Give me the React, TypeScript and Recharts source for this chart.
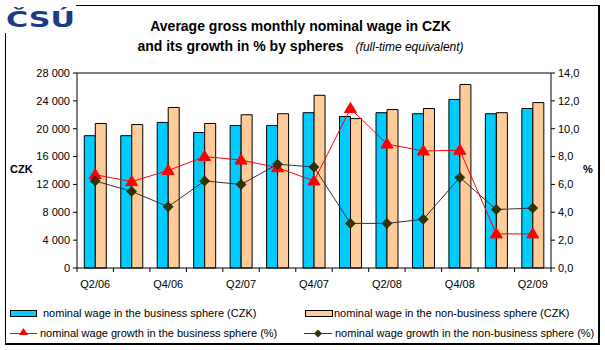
import React from "react";
import {
    ComposedChart,
    Bar,
    Line,
    XAxis,
    YAxis,
    ReferenceLine,
} from "recharts";

const quarters = [
    "Q2/06", "Q3/06", "Q4/06", "Q1/07", "Q2/07", "Q3/07", "Q4/07",
    "Q1/08", "Q2/08", "Q3/08", "Q4/08", "Q1/09", "Q2/09",
];
const businessWage = [19000, 19000, 20900, 19450, 20450, 20450, 22300, 21750, 22300, 22150, 24200, 22150, 22900];
const nonBusinessWage = [20750, 20600, 23050, 20750, 22000, 22150, 24800, 21450, 22750, 22900, 26350, 22300, 23750];
const businessGrowth = [6.7, 6.2, 7.0, 8.0, 7.75, 7.2, 6.25, 11.45, 8.9, 8.4, 8.45, 2.45, 2.45];
const nonBusinessGrowth = [6.25, 5.5, 4.4, 6.25, 6.0, 7.45, 7.25, 3.2, 3.2, 3.5, 6.5, 4.2, 4.3];

const czkTicks = [0, 4000, 8000, 12000, 16000, 20000, 24000, 28000];
const pctTicks = [0, 2, 4, 6, 8, 10, 12, 14];

const data = quarters.map((q, i) => ({
    q,
    business: businessWage[i],
    nonBusiness: nonBusinessWage[i],
    bGrowth: businessGrowth[i],
    nbGrowth: nonBusinessGrowth[i],
}));

const FONT = "'Liberation Sans', Arial, sans-serif";
const BLUE = "#00ccff";
const ORANGE = "#ffcc99";
const RED = "#ff0000";
const OLIVE = "#333300";

// chart geometry
const CHART_W = 605;
const CHART_H = 300;
const LEFT_AXIS_W = 77;
const RIGHT_AXIS_W = 54;
const PLOT_W = CHART_W - LEFT_AXIS_W - RIGHT_AXIS_W;
const BAND = PLOT_W / quarters.length;

const fmtCzk = (v: number) => (v >= 1000 ? `${Math.floor(v / 1000)} ${String(v % 1000).padStart(3, "0")}` : String(v));
const fmtPct = (v: number) => v.toFixed(1).replace(".", ",");

const Triangle = (props: any) => {
    const { cx, cy, index } = props;
    if (cx == null || cy == null) return <g key={`t${index}`} />;
    return (
        <path
            key={`t${index}`}
            d={`M${cx},${cy - 6} L${cx + 6},${cy + 4} L${cx - 6},${cy + 4} Z`}
            fill={RED}
            stroke={RED}
        />
    );
};

const Diamond = (props: any) => {
    const { cx, cy, index } = props;
    if (cx == null || cy == null) return <g key={`d${index}`} />;
    return (
        <path
            key={`d${index}`}
            d={`M${cx},${cy - 5} L${cx + 5},${cy} L${cx},${cy + 5} L${cx - 5},${cy} Z`}
            fill={OLIVE}
            stroke="#000"
            strokeWidth={0.5}
        />
    );
};

// Excel-style ticks: marks at category boundaries, label every other quarter
const QuarterTick = (props: any) => {
    const { x, y, payload, index } = props;
    const axisY = y - 12;
    const last = index === quarters.length - 1;
    return (
        <g>
            <line x1={x - BAND / 2} x2={x - BAND / 2} y1={axisY} y2={axisY + 4} stroke="#000" />
            {last && <line x1={x + BAND / 2} x2={x + BAND / 2} y1={axisY} y2={axisY + 4} stroke="#000" />}
            {index % 2 === 0 && (
                <text x={x} y={y} dy="0.71em" textAnchor="middle" fontSize={11} fill="#000" fontFamily={FONT}>
                    {payload.value}
                </text>
            )}
        </g>
    );
};

const legendText: React.CSSProperties = {
    position: "absolute",
    fontSize: 11,
    lineHeight: "14px",
    whiteSpace: "nowrap",
};

export default function App() {
    return (
        <div
            style={{
                position: "absolute",
                left: 0,
                top: 0,
                width: 605,
                height: 350,
                background: "#fff",
                fontFamily: FONT,
                color: "#000",
                overflow: "hidden",
            }}
        >
            {/* outer frame */}
            <div
                style={{
                    position: "absolute",
                    left: 5,
                    top: 5,
                    width: 592,
                    height: 337,
                    borderLeft: "1px solid #000",
                    borderTop: "1px solid #000",
                    borderRight: "2px solid #000",
                    borderBottom: "2px solid #000",
                }}
            />

            {/* logo */}
            <svg style={{ position: "absolute", left: 0, top: 0 }} width={80} height={33}>
                <rect x={0} y={0} width={76} height={33} fill="#fff" />
                <text
                    x={6}
                    y={27}
                    fontFamily="'DejaVu Sans', sans-serif"
                    fontWeight={900}
                    fontSize={21}
                    fill="#1d3b85"
                    textLength={69}
                    lengthAdjust="spacingAndGlyphs"
                >
                    ČSÚ
                </text>
            </svg>

            {/* title */}
            <div style={{ position: "absolute", left: 0, width: 605, top: 18, textAlign: "center", fontSize: 14, fontWeight: "bold", paddingRight: 4, boxSizing: "border-box" }}>
                Average gross monthly nominal wage in CZK
            </div>
            <div style={{ position: "absolute", left: 0, width: 605, top: 38, textAlign: "center", fontSize: 14, fontWeight: "bold", paddingRight: 4, boxSizing: "border-box" }}>
                and its growth in % by spheres
                <span style={{ fontWeight: "normal", fontStyle: "italic", fontSize: 12, marginLeft: 12 }}>
                    (full-time equivalent)
                </span>
            </div>

            <div style={{ position: "absolute" }}>
                <ComposedChart
                    width={CHART_W}
                    height={CHART_H}
                    data={data}
                    margin={{ top: 73, right: 0, left: 0, bottom: 0 }}
                    barCategoryGap="20%"
                    barGap={0}
                >
                    <XAxis
                        dataKey="q"
                        interval={0}
                        height={32}
                        axisLine={{ stroke: "#000" }}
                        tickLine={false}
                        tickSize={4}
                        tickMargin={8}
                        tick={<QuarterTick />}
                    />
                    <YAxis
                        yAxisId="left"
                        width={LEFT_AXIS_W}
                        domain={[0, 28000]}
                        ticks={czkTicks}
                        tickFormatter={fmtCzk}
                        axisLine={{ stroke: "#000" }}
                        tickLine={{ stroke: "#000" }}
                        tickSize={4}
                        tickMargin={3}
                        tick={{ fill: "#000", fontSize: 11, fontFamily: FONT }}
                    />
                    <YAxis
                        yAxisId="right"
                        orientation="right"
                        width={RIGHT_AXIS_W}
                        domain={[0, 14]}
                        ticks={pctTicks}
                        tickFormatter={fmtPct}
                        axisLine={{ stroke: "#000" }}
                        tickLine={{ stroke: "#000" }}
                        tickSize={4}
                        tickMargin={3}
                        tick={{ fill: "#000", fontSize: 11, fontFamily: FONT }}
                    />
                    <ReferenceLine yAxisId="left" y={28000} stroke="#000" />
                    <Bar yAxisId="left" dataKey="business" fill={BLUE} stroke="#000" strokeWidth={1} isAnimationActive={false} />
                    <Bar yAxisId="left" dataKey="nonBusiness" fill={ORANGE} stroke="#000" strokeWidth={1} isAnimationActive={false} />
                    <Line
                        yAxisId="right"
                        dataKey="bGrowth"
                        type="linear"
                        stroke={RED}
                        strokeWidth={1}
                        dot={Triangle}
                        activeDot={false}
                        isAnimationActive={false}
                    />
                    <Line
                        yAxisId="right"
                        dataKey="nbGrowth"
                        type="linear"
                        stroke="#333"
                        strokeWidth={1}
                        dot={Diamond}
                        activeDot={false}
                        isAnimationActive={false}
                    />
                </ComposedChart>
            </div>

            {/* axis titles */}
            <div style={{ position: "absolute", left: 10, top: 163, fontSize: 11, fontWeight: "bold" }}>CZK</div>
            <div style={{ position: "absolute", left: 583, top: 163, fontSize: 11, fontWeight: "bold" }}>%</div>

            {/* legend */}
            <svg style={{ position: "absolute", left: 0, top: 300 }} width={605} height={45}>
                <rect x={10.5} y={10.5} width={26} height={6} fill={BLUE} stroke="#000" />
                <rect x={305.5} y={10.5} width={27} height={6} fill={ORANGE} stroke="#000" />
                <line x1={10} x2={37} y1={33.5} y2={33.5} stroke={RED} />
                <path d="M23.5,28 L28,35 L19,35 Z" fill={RED} />
                <line x1={304} x2={332} y1={33.5} y2={33.5} stroke="#333" />
                <path d="M318,29.5 L322,33.5 L318,37.5 L314,33.5 Z" fill={OLIVE} />
            </svg>
            <div style={{ ...legendText, left: 43, top: 306 }}>nominal wage in the business sphere (CZK)</div>
            <div style={{ ...legendText, left: 334, top: 306 }}>nominal wage in the non-business sphere (CZK)</div>
            <div style={{ ...legendText, left: 40, top: 326 }}>nominal wage growth in the business sphere (%)</div>
            <div style={{ ...legendText, left: 335, top: 326 }}>nominal wage growth in the non-business sphere (%)</div>
        </div>
    );
}
